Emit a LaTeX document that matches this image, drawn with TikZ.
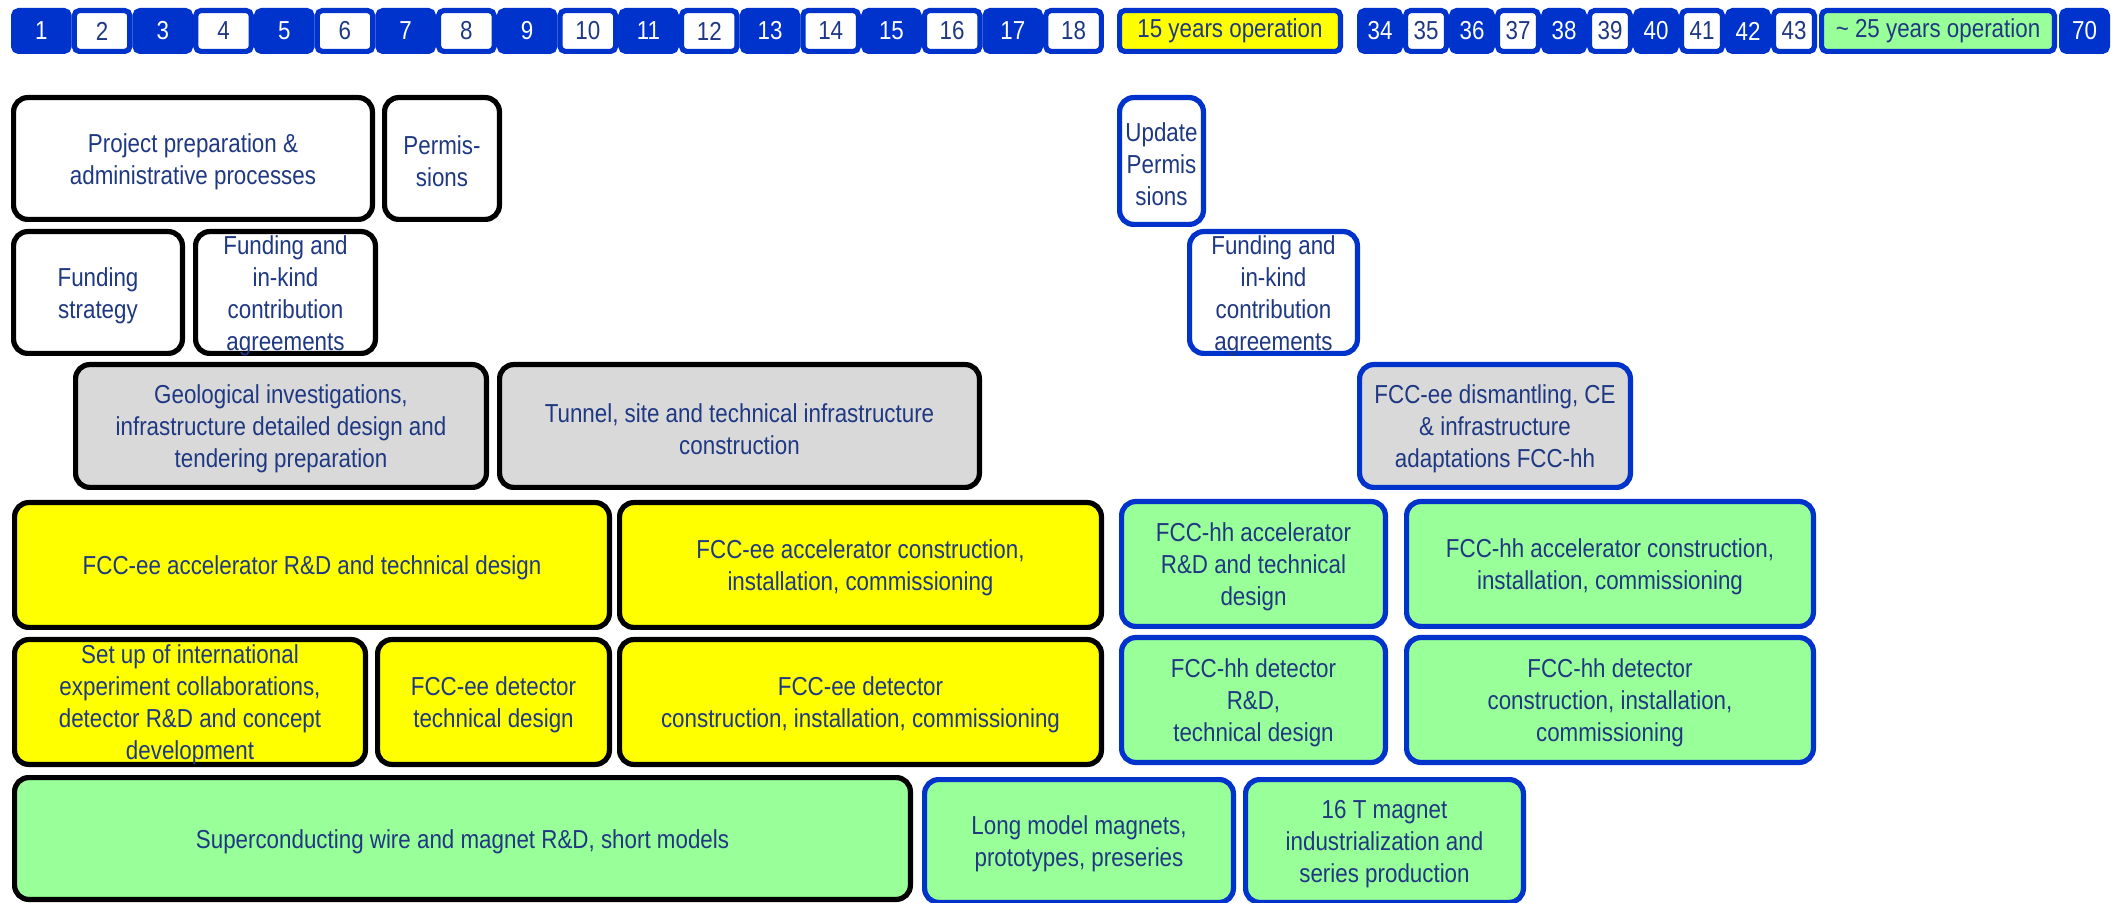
\documentclass[tikz,border=0pt]{standalone}
\usepackage{fontspec}
\setmainfont{Liberation Sans}[FakeStretch=0.86]
\definecolor{navy}{RGB}{31,56,130}
\definecolor{bblue}{RGB}{0,51,204}
\definecolor{ygold}{RGB}{255,255,0}
\definecolor{lgreen}{RGB}{153,255,153}
\definecolor{lgrey}{RGB}{217,217,217}
\tikzset{
  shp/.style={rounded corners=7pt, line width=2.6pt, inner sep=0pt, outer sep=0pt},
  wbk/.style={shp, draw=black, fill=white},
  gbk/.style={shp, draw=black, fill=lgrey},
  ybk/.style={shp, draw=black, fill=ygold},
  ebk/.style={shp, draw=black, fill=lgreen},
  wbl/.style={shp, draw=bblue, fill=white},
  gbl/.style={shp, draw=bblue, fill=lgrey},
  ebl/.style={shp, draw=bblue, fill=lgreen},
  txt/.style={align=center, text=navy, font=\fontsize{13}{16}\selectfont, inner sep=0pt, yshift=-1.6pt},
  cel/.style={rounded corners=2.5pt, line width=2.6pt, draw=bblue, inner sep=0pt, outer sep=0pt,
              font=\fontsize{13}{16}\selectfont},
  cb/.style={cel, fill=bblue, text=white},
  cw/.style={cel, fill=white, text=navy},
  cy/.style={cel, fill=ygold, text=navy},
  cg/.style={cel, fill=lgreen, text=navy},
}
\newcommand\gbox[7]{%
  \node[#6, minimum width={(#4-#2)*0.5pt-2.6pt}, minimum height={(#5-#3)*0.5pt-2.6pt}]
    (#1) at ({(#2+#4)/2},{(#3+#5)/2}) {};
  \node[txt] (#1t) at (#1.center) {#7};}
\newcommand\cbox[7]{%
  \node[#6, minimum width={(#4-#2)*0.5pt-2.6pt}, minimum height={(#5-#3)*0.5pt-2.6pt}]
    (#1) at ({(#2+#4)/2},{(#3+#5)/2}) {#7};}
\begin{document}
\begin{tikzpicture}[x=0.5pt,y=-0.5pt]
\useasboundingbox (0,0) rectangle (2117,903);
\fill[white] (0,0) rectangle (2117,903);
% top bar
\foreach \i [evaluate=\i as \xa using {11+(\i-1)*60.72}, evaluate=\i as \xb using {11+\i*60.72}] in {1,...,18}{
  \ifodd\i\relax \def\st{cb}\else \def\st{cw}\fi
  \cbox{n\i}{\xa}{8}{\xb}{54}{\st}{\i}
}
\cbox{op15}{1117}{8}{1343}{54}{cy}{15 years operation}
\foreach \i [evaluate=\i as \xa using {1357+(\i-34)*46}, evaluate=\i as \xb using {1357+(\i-33)*46}] in {34,...,43}{
  \ifodd\i\relax \def\st{cw}\else \def\st{cb}\fi
  \cbox{n\i}{\xa}{8}{\xb}{54}{\st}{\i}
}
\cbox{op25}{1819}{8}{2057}{54}{cg}{\textasciitilde{} 25 years operation}
\cbox{n70}{2059}{8}{2110}{54}{cb}{70}
% row A
\gbox{pp}{11}{95}{375}{222}{wbk}{Project preparation \&\\administrative processes}
\gbox{perm}{382}{95}{502}{222}{wbk}{Permis-\\sions}
\gbox{upd}{1117}{95}{1206}{227}{wbl}{Update\\Permis\\sions}
% row B
\gbox{fs}{11}{229}{185}{356}{wbk}{Funding\\strategy}
\gbox{fik}{193}{229}{378}{356}{wbk}{Funding and\\in-kind\\contribution\\agreements}
\gbox{fikb}{1187}{229}{1360}{356}{wbl}{Funding and\\in-kind\\contribution\\agreements}
% row C
\gbox{geo}{73}{362}{489}{490}{gbk}{Geological investigations,\\infrastructure detailed design and\\tendering preparation}
\gbox{tun}{497}{362}{982}{490}{gbk}{Tunnel, site and technical infrastructure\\construction}
\gbox{dis}{1357}{362}{1633}{490}{gbl}{FCC-ee dismantling, CE\\\& infrastructure\\adaptations FCC-hh}
% row D
\gbox{eard}{12}{500}{612}{630}{ybk}{FCC-ee accelerator R\&D and technical design}
\gbox{eacc}{617}{500}{1104}{630}{ybk}{FCC-ee accelerator construction,\\installation, commissioning}
\gbox{hard}{1119}{499}{1388}{629}{ebl}{FCC-hh accelerator\\R\&D and technical\\design}
\gbox{hacc}{1404}{499}{1816}{629}{ebl}{FCC-hh accelerator construction,\\installation, commissioning}
% row E
\gbox{setup}{12}{637}{368}{767}{ybk}{Set up of international\\experiment collaborations,\\detector R\&D and concept\\development}
\gbox{edtd}{375}{637}{612}{767}{ybk}{FCC-ee detector\\technical design}
\gbox{edc}{617}{637}{1104}{767}{ybk}{FCC-ee detector\\construction, installation, commissioning}
\gbox{hdrd}{1119}{635}{1388}{765}{ebl}{FCC-hh detector\\R\&D,\\technical design}
\gbox{hdc}{1404}{635}{1816}{765}{ebl}{FCC-hh detector\\construction, installation,\\commissioning}
% row F
\gbox{sc}{12}{775}{913}{902}{ebk}{Superconducting wire and magnet R\&D, short models}
\gbox{lm}{922}{777}{1236}{905}{ebl}{Long model magnets,\\prototypes, preseries}
\gbox{mag}{1243}{777}{1526}{905}{ebl}{16 T magnet\\industrialization and\\series production}
\end{tikzpicture}
\end{document}
